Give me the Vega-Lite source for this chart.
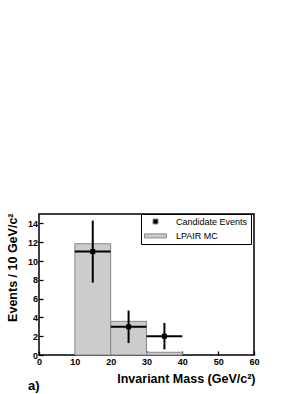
{
  "$schema": "https://vega.github.io/schema/vega-lite/v6.json",
  "width": 215,
  "height": 141,
  "autosize": "none",
  "padding": {"left": 39, "top": 214, "right": 51, "bottom": 39},
  "background": "white",
  "config": {
    "font": "Liberation Sans",
    "view": {"stroke": "black", "strokeWidth": 1.5},
    "axis": {
      "domain": false,
      "grid": false,
      "labelOverlap": false,
      "labelFont": "Liberation Sans",
      "labelFontWeight": "bold",
      "labelFontSize": 9,
      "labelColor": "black",
      "tickColor": "black",
      "tickWidth": 1.3,
      "tickSize": -4,
      "titleFont": "Liberation Sans",
      "titleFontWeight": "bold",
      "titleFontSize": 12.5,
      "titleColor": "black"
    },
    "legend": {
      "title": null,
      "orient": "none",
      "legendX": 102,
      "legendY": 0,
      "padding": 3,
      "fillColor": "white",
      "strokeColor": "black",
      "labelFont": "Liberation Sans",
      "labelFontSize": 9,
      "labelFontWeight": "normal",
      "labelColor": "black",
      "labelOffset": 15,
      "symbolOffset": 6,
      "rowPadding": 3.4,
      "symbolStrokeWidth": 1
    }
  },
  "title": {
    "text": "a)",
    "orient": "bottom",
    "anchor": "start",
    "frame": "group",
    "font": "Liberation Sans",
    "fontSize": 13,
    "fontWeight": "bold",
    "color": "black",
    "baseline": "alphabetic",
    "dx": -11,
    "offset": 5
  },
  "datasets": {
    "mc": [
      {"lo": 10, "hi": 20, "n": 11.84, "series": "LPAIR MC"},
      {"lo": 20, "hi": 30, "n": 3.58, "series": "LPAIR MC"},
      {"lo": 30, "hi": 40, "n": 0.29, "series": "LPAIR MC"}
    ],
    "events": [
      {"x": 15, "lo": 10, "hi": 20, "y": 11, "ylo": 7.7, "yhi": 14.3, "series": "Candidate Events"},
      {"x": 25, "lo": 20, "hi": 30, "y": 3, "ylo": 1.27, "yhi": 4.73, "series": "Candidate Events"},
      {"x": 35, "lo": 30, "hi": 40, "y": 2, "ylo": 0.59, "yhi": 3.41, "series": "Candidate Events"}
    ]
  },
  "layer": [
    {
      "data": {"name": "mc"},
      "mark": {"type": "rect", "stroke": "#888888", "strokeWidth": 1},
      "encoding": {
        "x": {
          "field": "lo", "type": "quantitative",
          "scale": {"domain": [0, 60], "nice": false},
          "axis": {
            "tickCount": 6,
            "labelOverlap": false,
            "labelFlush": false,
            "labelPadding": 6.5,
            "title": "Invariant Mass (GeV/c²)",
            "titleAnchor": "end",
            "titleAlign": "right",
            "titleBaseline": "alphabetic",
            "titleX": 216,
            "titleY": 27
          }
        },
        "x2": {"field": "hi"},
        "y": {
          "field": "n", "type": "quantitative",
          "scale": {"domain": [0, 15], "nice": false},
          "axis": {
            "tickCount": 8,
            "labelOverlap": false,
            "labelPadding": 5.5,
            "title": "Events / 10 GeV/c²",
            "titleAngle": 270,
            "titleAlign": "right",
            "titleBaseline": "alphabetic",
            "titleX": -23,
            "titleY": -1
          }
        },
        "y2": {"datum": 0},
        "color": {
          "field": "series", "type": "nominal",
          "scale": {"domain": ["Candidate Events", "LPAIR MC"], "range": ["black", "#cccccc"]},
          "legend": {"labelExpr": "datum.label + '    '"}
        }
      }
    },
    {
      "data": {"name": "events"},
      "mark": {"type": "rule", "color": "black", "strokeWidth": 2},
      "encoding": {
        "x": {"field": "x", "type": "quantitative"},
        "y": {"field": "ylo", "type": "quantitative"},
        "y2": {"field": "yhi"}
      }
    },
    {
      "data": {"name": "events"},
      "mark": {"type": "rule", "color": "black", "strokeWidth": 2},
      "encoding": {
        "x": {"field": "lo", "type": "quantitative"},
        "x2": {"field": "hi"},
        "y": {"field": "y", "type": "quantitative"}
      }
    },
    {
      "data": {"name": "events"},
      "mark": {"type": "point", "filled": true, "opacity": 1, "stroke": "#888888", "strokeWidth": 0},
      "encoding": {
        "x": {"field": "x", "type": "quantitative"},
        "y": {"field": "y", "type": "quantitative"},
        "color": {"field": "series", "type": "nominal", "legend": {"labelExpr": "datum.label + '    '"}},
        "shape": {
          "field": "series", "type": "nominal",
          "scale": {"domain": ["Candidate Events", "LPAIR MC"], "range": ["square", "M-2.2,-0.4H2.2V0.4H-2.2Z"]},
          "legend": {"labelExpr": "datum.label + '    '"}
        },
        "size": {
          "field": "series", "type": "nominal",
          "scale": {"domain": ["Candidate Events", "LPAIR MC"], "range": [25, 100]},
          "legend": {"labelExpr": "datum.label + '    '"}
        }
      }
    }
  ]
}
